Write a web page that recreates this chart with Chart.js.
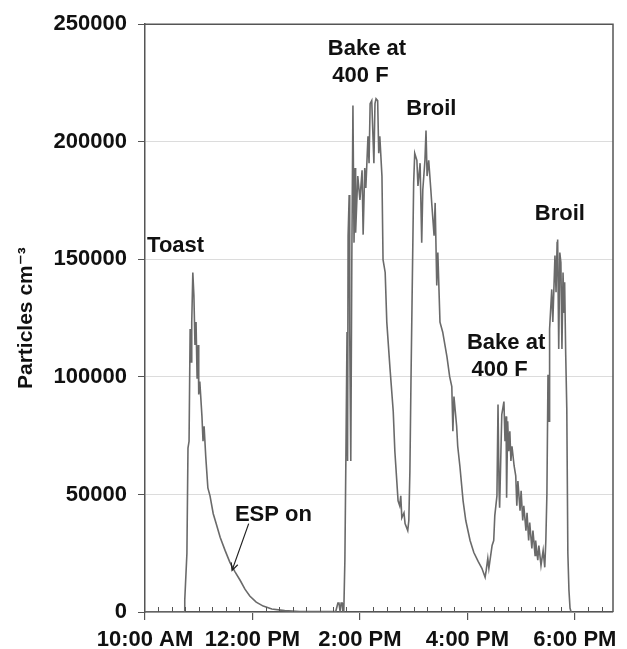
<!DOCTYPE html>
<html lang="en">
<head>
    <meta charset="UTF-8">
    <title>Particles cm-3</title>
    <style>
        html, body {
            margin: 0;
            padding: 0;
            background: #fff;
        }
        #wrap {
            width: 627px;
            height: 649px;
        }
    </style>
    <script src="https://cdn.jsdelivr.net/npm/chart.js"></script>
</head>
<body>
<div id="wrap"><canvas id="myChart" width="627" height="649"></canvas></div>
<script>
    // time of day in decimal hours
    const hours = [
        10.00, 10.73, 10.74, 10.78, 10.80, 10.82, 10.84, 10.86, 10.87, 10.89,
        10.91, 10.93, 10.95, 10.97, 10.99, 11.00, 11.02, 11.06, 11.08, 11.10,
        11.13, 11.17, 11.21, 11.27, 11.32, 11.40, 11.49, 11.58, 11.67, 11.77,
        11.86, 11.95, 12.07, 12.20, 12.36, 12.60, 12.88, 13.55, 13.59, 13.61,
        13.63, 13.65, 13.67, 13.68, 13.70, 13.72, 13.74, 13.76, 13.77, 13.78,
        13.80, 13.81, 13.83, 13.85, 13.87, 13.89, 13.91, 13.92, 13.96, 14.00,
        14.04, 14.06, 14.09, 14.11, 14.15, 14.17, 14.19, 14.22, 14.26, 14.28,
        14.30, 14.33, 14.35, 14.37, 14.41, 14.43, 14.47, 14.50, 14.56, 14.62,
        14.65, 14.71, 14.74, 14.76, 14.78, 14.82, 14.84, 14.89, 14.91, 14.93,
        14.95, 14.97, 15.00, 15.02, 15.06, 15.08, 15.12, 15.15, 15.17, 15.21,
        15.23, 15.25, 15.28, 15.32, 15.34, 15.38, 15.40, 15.43, 15.45, 15.49,
        15.54, 15.62, 15.67, 15.71, 15.73, 15.75, 15.80, 15.82, 15.86, 15.92,
        15.97, 16.05, 16.12, 16.20, 16.27, 16.33, 16.35, 16.38, 16.40, 16.46,
        16.49, 16.51, 16.55, 16.57, 16.59, 16.60, 16.64, 16.68, 16.70, 16.72,
        16.73, 16.75, 16.77, 16.79, 16.81, 16.83, 16.87, 16.90, 16.92, 16.94,
        16.98, 17.00, 17.03, 17.05, 17.09, 17.11, 17.14, 17.16, 17.20, 17.22,
        17.26, 17.27, 17.31, 17.33, 17.37, 17.41, 17.44, 17.46, 17.48, 17.50,
        17.52, 17.53, 17.57, 17.59, 17.63, 17.65, 17.67, 17.68, 17.70, 17.72,
        17.74, 17.76, 17.78, 17.80, 17.81, 17.83, 17.85, 17.87, 17.89, 17.91,
        17.93
    ];
    const particles = [
        0, 0, 5100, 24900, 69700, 72600, 120400, 106400, 123300, 144400,
        134700, 113600, 123300, 99200, 113600, 92500, 98000, 83200, 72600, 79000,
        66300, 52800, 49400, 41800, 38000, 31700, 26200, 21100, 17300, 13500,
        9700, 6800, 4200, 2500, 1300, 600, 200, 200, 3800, 3800,
        400, 3800, 3800, 400, 400, 22000, 68400, 119100, 64200, 160000,
        177400, 119100, 64200, 152900, 215400, 157100, 188800, 161300, 185400, 175300,
        187900, 160500, 188800, 180300, 202300, 190900, 216200, 217500, 190900, 216200,
        218300, 217500, 195100, 202300, 185400, 149900, 144400, 123300, 103500, 85300,
        68400, 47300, 45200, 49400, 40100, 42200, 37600, 34600, 38900, 60000,
        98000, 131800, 182400, 195100, 192100, 181200, 190900, 157100, 179500, 192100,
        204800, 185400, 192100, 179500, 172700, 160000, 174000, 138900, 152900, 123300,
        119100, 108500, 100100, 95900, 76900, 91600, 79000, 70500, 62100, 47300,
        38900, 30400, 25300, 21500, 18600, 14800, 17700, 22800, 18600, 28300,
        30400, 41000, 49400, 88300, 51500, 44300, 84000, 89500, 72600, 83200,
        48600, 81100, 68400, 76900, 64200, 70500, 62100, 57900, 45200, 55700,
        43100, 51500, 38900, 45200, 34600, 42200, 30400, 38000, 27000, 34600,
        24100, 30400, 22000, 28300, 19800, 26200, 19000, 30400, 50300, 100900,
        81100, 120400, 137200, 123300, 151600, 136000, 157100, 158400, 111900, 152900,
        148600, 111900, 144400, 127500, 140200, 109400, 86600, 24900, 9300, 1700,
        0
    ];

    const xTickHours = [10, 12, 14, 16, 18];
    const xTickLabels = ['10:00 AM', '12:00 PM', '2:00 PM', '4:00 PM', '6:00 PM'];
    const yTicks = [0, 50000, 100000, 150000, 200000, 250000];

    // labels written on the plot, anchored at (hour, particles)
    const noteTexts = ['Toast', 'Bake at', '400 F', 'Broil', 'Broil', 'Bake at', '400 F', 'ESP on'];
    const noteHours = [10.57, 14.13, 14.01, 15.33, 17.72, 16.72, 16.60, 12.39];
    const noteValues = [155800, 239400, 228000, 214100, 169300, 114400, 103000, 41400];
    // arrow from the "ESP on" label to the curve
    const arrowHours = [11.93, 11.62];
    const arrowValues = [37600, 17700];

    const axisColor = '#555';
    const textFont = 'bold 22px "Liberation Sans", Arial, sans-serif';

    const extrasPlugin = {
        id: 'extras',
        afterDraw(chart) {
            const ctx = chart.ctx;
            const area = chart.chartArea;
            const xs = chart.scales.x;
            const ys = chart.scales.y;
            ctx.save();

            // frame: top and right edges
            ctx.strokeStyle = axisColor;
            ctx.lineWidth = 1.5;
            ctx.beginPath();
            ctx.moveTo(area.left, area.top);
            ctx.lineTo(area.right, area.top);
            ctx.lineTo(area.right, area.bottom);
            ctx.stroke();

            // minor x ticks every 15 minutes, pointing up
            ctx.lineWidth = 1;
            ctx.beginPath();
            for (let k = 0; k < 40; k++) {
                if (k % 8 === 0) continue;
                const px = xs.getPixelForValue(10 + k * 0.25);
                if (px > area.right) break;
                ctx.moveTo(Math.round(px) + 0.5, area.bottom);
                ctx.lineTo(Math.round(px) + 0.5, area.bottom - 5);
            }
            ctx.stroke();

            // text notes
            ctx.fillStyle = '#111';
            ctx.font = textFont;
            ctx.textAlign = 'center';
            ctx.textBaseline = 'middle';
            for (let i = 0; i < noteTexts.length; i++) {
                ctx.fillText(noteTexts[i], xs.getPixelForValue(noteHours[i]), ys.getPixelForValue(noteValues[i]));
            }

            // arrow
            const x0 = xs.getPixelForValue(arrowHours[0]);
            const y0 = ys.getPixelForValue(arrowValues[0]);
            const x1 = xs.getPixelForValue(arrowHours[1]);
            const y1 = ys.getPixelForValue(arrowValues[1]);
            const ang = Math.atan2(y1 - y0, x1 - x0);
            ctx.strokeStyle = '#222';
            ctx.lineWidth = 1.2;
            ctx.beginPath();
            ctx.moveTo(x0, y0);
            ctx.lineTo(x1, y1);
            ctx.moveTo(x1 - 8 * Math.cos(ang - 0.45), y1 - 8 * Math.sin(ang - 0.45));
            ctx.lineTo(x1, y1);
            ctx.lineTo(x1 - 8 * Math.cos(ang + 0.45), y1 - 8 * Math.sin(ang + 0.45));
            ctx.stroke();

            ctx.restore();
        }
    };

    const ctx = document.getElementById('myChart').getContext('2d');
    const myChart = new Chart(ctx, {
        type: 'line',
        data: {
            datasets: [{
                label: 'Particles',
                data: hours.map((h, i) => ({x: h, y: particles[i]})),
                borderColor: '#6a6a6a',
                borderWidth: 1.6,
                pointRadius: 0,
                fill: false,
                tension: 0
            }]
        },
        options: {
            responsive: false,
            animation: false,
            layout: {
                padding: {top: 20, right: 14, left: 0, bottom: 0}
            },
            plugins: {
                legend: {display: false},
                tooltip: {enabled: false}
            },
            scales: {
                x: {
                    type: 'linear',
                    min: 10,
                    max: 18.71,
                    afterBuildTicks: (scale) => {
                        scale.ticks = xTickHours.map(v => ({value: v}));
                    },
                    afterFit: (scale) => {
                        scale.height = 37;
                    },
                    ticks: {
                        autoSkip: false,
                        maxRotation: 0,
                        padding: 7,
                        color: '#111',
                        font: {family: '"Liberation Sans", Arial, sans-serif', size: 22, weight: 'bold'},
                        callback: (value) => xTickLabels[xTickHours.indexOf(value)]
                    },
                    grid: {
                        drawOnChartArea: false,
                        color: axisColor,
                        tickColor: axisColor,
                        tickLength: 8,
                        lineWidth: 1.2
                    },
                    border: {color: axisColor, width: 1.5}
                },
                y: {
                    min: 0,
                    max: 250000,
                    afterBuildTicks: (scale) => {
                        scale.ticks = yTicks.map(v => ({value: v}));
                    },
                    afterFit: (scale) => {
                        scale.width = 145;
                    },
                    ticks: {
                        padding: 11,
                        color: '#111',
                        font: {family: '"Liberation Sans", Arial, sans-serif', size: 22, weight: 'bold'},
                        callback: (value) => String(value)
                    },
                    grid: {
                        color: '#dcdcdc',
                        lineWidth: 1,
                        tickColor: axisColor,
                        tickLength: 7
                    },
                    border: {color: axisColor, width: 1.5},
                    title: {
                        display: true,
                        text: 'Particles cm\u207B\u00B3',
                        color: '#111',
                        padding: {top: 14, bottom: 0},
                        font: {family: '"Liberation Sans", Arial, "DejaVu Sans", sans-serif', size: 21, weight: 'bold'}
                    }
                }
            }
        },
        plugins: [extrasPlugin]
    });
</script>
</body>
</html>
